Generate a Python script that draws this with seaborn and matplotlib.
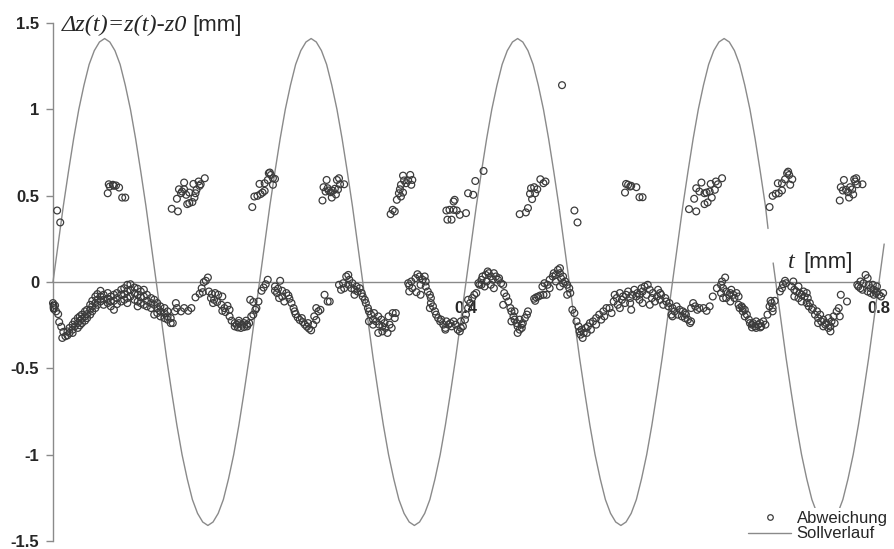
import pandas as pd
import matplotlib
matplotlib.use('Agg')
import matplotlib.pyplot as plt
from matplotlib.lines import Line2D
import seaborn as sns

# ---- data ----
# Sollverlauf: target curve, read every 0.005 mm of t (first piece, up to the gap)
soll_t = [round(0.005 * i, 4) for i in range(139)] + [0.6925]
soll_v = [0, 0.22, 0.44, 0.64, 0.83, 1.00, 1.14, 1.26, 1.34, 1.39,
          1.41, 1.39, 1.34, 1.26, 1.14, 1.00, 0.83, 0.64, 0.44, 0.22,
          0, -0.22, -0.44, -0.64, -0.83, -1.00, -1.14, -1.26, -1.34, -1.39,
          -1.41, -1.39, -1.34, -1.26, -1.14, -1.00, -0.83, -0.64, -0.44, -0.22,
          0, 0.22, 0.44, 0.64, 0.83, 1.00, 1.14, 1.26, 1.34, 1.39,
          1.41, 1.39, 1.34, 1.26, 1.14, 1.00, 0.83, 0.64, 0.44, 0.22,
          0, -0.22, -0.44, -0.64, -0.83, -1.00, -1.14, -1.26, -1.34, -1.39,
          -1.41, -1.39, -1.34, -1.26, -1.14, -1.00, -0.83, -0.64, -0.44, -0.22,
          0, 0.22, 0.44, 0.64, 0.83, 1.00, 1.14, 1.26, 1.34, 1.39,
          1.41, 1.39, 1.34, 1.26, 1.14, 1.00, 0.83, 0.64, 0.44, 0.22,
          0, -0.22, -0.44, -0.64, -0.83, -1.00, -1.14, -1.26, -1.34, -1.39,
          -1.41, -1.39, -1.34, -1.26, -1.14, -1.00, -0.83, -0.64, -0.44, -0.22,
          0, 0.22, 0.44, 0.64, 0.83, 1.00, 1.14, 1.26, 1.34, 1.39,
          1.41, 1.39, 1.34, 1.26, 1.14, 1.00, 0.83, 0.64, 0.44,
          0.31]
# second piece of the target curve (after the gap)
soll2_t = [0.6975, 0.700, 0.705, 0.710, 0.715, 0.720, 0.725, 0.730, 0.735, 0.740, 0.745,
           0.750, 0.755, 0.760, 0.765, 0.770, 0.775, 0.780, 0.785, 0.790, 0.795, 0.800, 0.805]
soll2_v = [0.11, 0, -0.22, -0.44, -0.64, -0.83, -1.00, -1.14, -1.26, -1.34, -1.39,
           -1.41, -1.39, -1.34, -1.26, -1.14, -1.00, -0.83, -0.64, -0.44, -0.22, 0, 0.22]

# Abweichung: measured deviation, lower band
band_a = [(0.000, -0.122), (0.001, -0.151), (0.002, -0.136), (0.003, -0.170), (0.005, -0.186),
          (0.006, -0.232), (0.008, -0.259), (0.010, -0.289), (0.009, -0.324), (0.012, -0.314),
          (0.014, -0.286), (0.014, -0.309), (0.016, -0.266), (0.016, -0.295), (0.019, -0.247),
          (0.019, -0.276), (0.019, -0.295), (0.021, -0.228), (0.021, -0.257), (0.024, -0.209),
          (0.024, -0.238), (0.024, -0.266), (0.026, -0.199), (0.026, -0.224), (0.026, -0.251),
          (0.028, -0.189), (0.028, -0.213), (0.028, -0.238), (0.031, -0.170), (0.031, -0.199),
          (0.031, -0.224), (0.033, -0.161), (0.033, -0.186), (0.033, -0.209), (0.036, -0.132),
          (0.036, -0.161), (0.036, -0.189), (0.038, -0.109), (0.038, -0.141), (0.038, -0.170),
          (0.041, -0.084), (0.041, -0.122), (0.041, -0.151), (0.043, -0.070), (0.043, -0.103),
          (0.043, -0.132), (0.046, -0.051), (0.046, -0.084), (0.046, -0.113), (0.049, -0.074),
          (0.049, -0.103), (0.049, -0.132), (0.053, -0.064), (0.053, -0.097), (0.053, -0.122),
          (0.056, -0.084), (0.056, -0.113), (0.056, -0.141), (0.059, -0.074), (0.059, -0.109),
          (0.059, -0.161), (0.062, -0.064), (0.062, -0.093), (0.062, -0.128), (0.066, -0.045),
          (0.066, -0.074), (0.066, -0.113), (0.069, -0.036), (0.069, -0.070), (0.069, -0.103),
          (0.072, -0.016), (0.072, -0.055), (0.072, -0.093), (0.072, -0.122), (0.075, -0.013),
          (0.075, -0.045), (0.075, -0.084), (0.079, -0.032), (0.079, -0.064), (0.079, -0.103),
          (0.082, -0.039), (0.082, -0.074), (0.082, -0.113), (0.082, -0.141), (0.085, -0.055),
          (0.085, -0.089), (0.085, -0.122), (0.088, -0.045), (0.088, -0.084), (0.088, -0.132),
          (0.091, -0.074), (0.091, -0.109), (0.091, -0.141), (0.095, -0.093), (0.095, -0.122),
          (0.095, -0.151), (0.098, -0.103), (0.098, -0.132), (0.098, -0.189), (0.101, -0.122),
          (0.101, -0.151), (0.101, -0.180), (0.104, -0.141), (0.104, -0.170), (0.104, -0.199),
          (0.108, -0.151), (0.108, -0.180), (0.108, -0.209), (0.111, -0.170), (0.111, -0.199),
          (0.111, -0.218), (0.114, -0.209), (0.114, -0.238), (0.119, -0.122), (0.120, -0.151),
          (0.118, -0.170), (0.124, -0.170), (0.127, -0.151), (0.131, -0.167), (0.134, -0.151),
          (0.116, -0.238)]
band_b = [(0.138, -0.089), (0.142, -0.068), (0.144, -0.036), (0.146, -0.001), (0.150, 0.026),
          (0.148, 0.007), (0.151, -0.055), (0.154, -0.070), (0.157, -0.064), (0.160, -0.074),
          (0.164, -0.084), (0.156, -0.103), (0.159, -0.116), (0.155, -0.122), (0.153, -0.093),
          (0.145, -0.059), (0.163, -0.132), (0.166, -0.151), (0.169, -0.138), (0.171, -0.161),
          (0.164, -0.167), (0.167, -0.174), (0.171, -0.199), (0.173, -0.224), (0.176, -0.238),
          (0.178, -0.247), (0.180, -0.238), (0.183, -0.247), (0.185, -0.238), (0.188, -0.247),
          (0.190, -0.238), (0.179, -0.263), (0.182, -0.266), (0.185, -0.261), (0.188, -0.257),
          (0.176, -0.257), (0.180, -0.224), (0.187, -0.224), (0.191, -0.103), (0.194, -0.116),
          (0.196, -0.161), (0.199, -0.113), (0.197, -0.151), (0.192, -0.199), (0.194, -0.189),
          (0.202, -0.051), (0.204, -0.032), (0.206, -0.013), (0.208, 0.013), (0.215, -0.026),
          (0.218, -0.039), (0.220, 0.007), (0.222, -0.051), (0.226, -0.064), (0.228, -0.078),
          (0.217, -0.064), (0.222, -0.084), (0.229, -0.097), (0.224, -0.113), (0.219, -0.093),
          (0.215, -0.051), (0.231, -0.122), (0.233, -0.151), (0.235, -0.186), (0.237, -0.205),
          (0.239, -0.220), (0.242, -0.232), (0.244, -0.247), (0.246, -0.259), (0.248, -0.270),
          (0.250, -0.280), (0.247, -0.238), (0.252, -0.247), (0.255, -0.220), (0.253, -0.199),
          (0.257, -0.170), (0.259, -0.161), (0.255, -0.151), (0.241, -0.209), (0.234, -0.170),
          (0.263, -0.074), (0.266, -0.113)]
band_c = [(0.268, -0.113), (0.277, -0.016), (0.281, -0.007), (0.284, 0.032), (0.286, 0.041),
          (0.287, 0.013), (0.290, -0.007), (0.279, -0.045), (0.282, -0.036), (0.289, -0.036),
          (0.292, -0.045), (0.294, -0.026), (0.295, -0.055), (0.297, -0.036), (0.299, -0.064),
          (0.300, -0.084), (0.302, -0.103), (0.303, -0.122), (0.286, -0.016), (0.292, -0.074),
          (0.305, -0.151), (0.306, -0.170), (0.308, -0.189), (0.310, -0.218), (0.311, -0.180),
          (0.313, -0.228), (0.315, -0.199), (0.316, -0.247), (0.318, -0.218), (0.319, -0.257),
          (0.321, -0.238), (0.322, -0.266), (0.324, -0.295), (0.326, -0.247), (0.328, -0.266),
          (0.329, -0.180), (0.331, -0.209), (0.332, -0.180), (0.315, -0.295), (0.306, -0.228),
          (0.319, -0.286), (0.325, -0.199), (0.310, -0.247), (0.344, -0.007), (0.345, -0.055),
          (0.347, 0.003), (0.348, -0.036), (0.351, 0.022), (0.353, 0.045), (0.355, 0.032),
          (0.356, -0.016), (0.358, 0.013), (0.360, 0.032), (0.361, -0.026), (0.363, -0.055),
          (0.365, -0.074), (0.366, -0.093), (0.345, -0.020), (0.352, -0.059), (0.356, -0.074),
          (0.361, 0.003), (0.366, -0.122), (0.365, -0.151), (0.368, -0.141), (0.370, -0.170),
          (0.371, -0.189), (0.373, -0.209), (0.375, -0.228), (0.376, -0.218), (0.378, -0.247),
          (0.380, -0.266), (0.381, -0.228), (0.383, -0.247), (0.385, -0.238), (0.386, -0.257),
          (0.380, -0.276), (0.388, -0.228), (0.390, -0.247), (0.392, -0.276), (0.394, -0.286),
          (0.395, -0.266), (0.397, -0.257), (0.399, -0.218), (0.400, -0.189), (0.402, -0.151),
          (0.404, -0.122), (0.406, -0.093), (0.408, -0.074), (0.410, -0.064), (0.402, -0.103),
          (0.395, -0.228), (0.412, -0.007), (0.413, -0.016), (0.415, 0.013), (0.416, 0.032),
          (0.419, 0.041), (0.421, 0.061), (0.422, 0.051), (0.424, 0.032), (0.426, 0.013),
          (0.427, 0.051), (0.429, 0.032), (0.431, 0.013), (0.432, 0.022), (0.434, -0.007),
          (0.436, -0.016), (0.420, 0.003), (0.427, -0.036), (0.415, -0.016), (0.424, -0.016),
          (0.418, -0.026), (0.437, -0.064), (0.439, -0.084), (0.436, -0.132), (0.441, -0.113),
          (0.443, -0.151), (0.444, -0.170), (0.446, -0.199), (0.447, -0.218), (0.449, -0.238),
          (0.450, -0.257), (0.452, -0.276), (0.454, -0.266), (0.455, -0.238), (0.457, -0.209),
          (0.459, -0.189), (0.460, -0.170), (0.447, -0.170), (0.452, -0.218), (0.444, -0.228),
          (0.450, -0.295), (0.454, -0.247), (0.466, -0.097), (0.468, -0.089), (0.470, -0.084),
          (0.472, -0.078), (0.475, -0.074), (0.478, -0.074), (0.467, -0.109), (0.474, -0.026),
          (0.476, -0.007), (0.479, -0.016), (0.481, 0.013), (0.484, 0.032), (0.485, 0.051),
          (0.487, 0.041), (0.489, 0.070), (0.491, 0.080), (0.491, 0.051), (0.492, 0.022),
          (0.494, 0.032), (0.496, 0.003), (0.498, -0.016), (0.500, -0.036), (0.501, -0.064),
          (0.494, -0.007), (0.487, 0.003), (0.491, -0.026), (0.498, -0.074), (0.481, -0.036),
          (0.503, -0.161), (0.505, -0.180), (0.507, -0.228), (0.509, -0.257), (0.510, -0.286),
          (0.511, -0.305), (0.513, -0.324), (0.512, -0.276), (0.514, -0.295), (0.516, -0.266),
          (0.518, -0.257), (0.520, -0.238), (0.523, -0.228), (0.526, -0.209), (0.529, -0.189),
          (0.533, -0.170), (0.536, -0.151), (0.521, -0.276), (0.526, -0.247), (0.531, -0.218),
          (0.517, -0.295), (0.534, -0.199)]
band_d = [(0.539, -0.151), (0.541, -0.180), (0.543, -0.113), (0.544, -0.074), (0.546, -0.093),
          (0.547, -0.132), (0.549, -0.064), (0.551, -0.103), (0.552, -0.084), (0.554, -0.122),
          (0.555, -0.074), (0.557, -0.055), (0.559, -0.093), (0.560, -0.161), (0.561, -0.074),
          (0.563, -0.045), (0.565, -0.084), (0.566, -0.064), (0.568, -0.103), (0.570, -0.036),
          (0.571, -0.055), (0.573, -0.026), (0.575, -0.074), (0.576, -0.016), (0.578, -0.045),
          (0.580, -0.093), (0.581, -0.064), (0.583, -0.113), (0.585, -0.084), (0.586, -0.045),
          (0.588, -0.103), (0.589, -0.074), (0.591, -0.132), (0.593, -0.093), (0.594, -0.113),
          (0.596, -0.141), (0.549, -0.151), (0.559, -0.122), (0.571, -0.122), (0.578, -0.132),
          (0.568, -0.074), (0.588, -0.064), (0.597, -0.122), (0.599, -0.189), (0.600, -0.151),
          (0.602, -0.170), (0.604, -0.141), (0.605, -0.189), (0.607, -0.161), (0.609, -0.199),
          (0.610, -0.170), (0.612, -0.209), (0.613, -0.189), (0.615, -0.218), (0.617, -0.238),
          (0.618, -0.228), (0.600, -0.199), (0.612, -0.180), (0.620, -0.122), (0.622, -0.141),
          (0.624, -0.161), (0.626, -0.151), (0.630, -0.151), (0.633, -0.167), (0.636, -0.141),
          (0.618, -0.151), (0.639, -0.084), (0.643, -0.036), (0.647, -0.016), (0.648, 0.003),
          (0.651, 0.026), (0.649, -0.036), (0.652, -0.055), (0.655, -0.074), (0.656, -0.064),
          (0.657, -0.045), (0.659, -0.074), (0.660, -0.093), (0.662, -0.064), (0.664, -0.084),
          (0.652, -0.093), (0.656, -0.113), (0.647, -0.064), (0.649, -0.093), (0.664, -0.132),
          (0.665, -0.151), (0.667, -0.141), (0.668, -0.170), (0.670, -0.161), (0.672, -0.189),
          (0.670, -0.199), (0.668, -0.151), (0.674, -0.218), (0.675, -0.238), (0.677, -0.247),
          (0.678, -0.238), (0.680, -0.257), (0.681, -0.228), (0.683, -0.247), (0.685, -0.238),
          (0.686, -0.257), (0.688, -0.228), (0.690, -0.247), (0.681, -0.266), (0.677, -0.263),
          (0.685, -0.263), (0.692, -0.189), (0.694, -0.141), (0.696, -0.122), (0.697, -0.151),
          (0.699, -0.109), (0.697, -0.170), (0.695, -0.109), (0.704, -0.055), (0.706, -0.036),
          (0.707, -0.013), (0.709, 0.007), (0.710, -0.007), (0.715, -0.026), (0.717, 0.003),
          (0.718, -0.045), (0.720, -0.055), (0.722, -0.026), (0.723, -0.064), (0.725, -0.074),
          (0.727, -0.055), (0.728, -0.084), (0.730, -0.064), (0.731, -0.093), (0.718, -0.084),
          (0.722, -0.093), (0.725, -0.113), (0.730, -0.122), (0.732, -0.141), (0.733, -0.122),
          (0.735, -0.161), (0.736, -0.151), (0.738, -0.189), (0.740, -0.170), (0.741, -0.209),
          (0.743, -0.189), (0.744, -0.228), (0.746, -0.218), (0.748, -0.247), (0.749, -0.238),
          (0.751, -0.266), (0.753, -0.257), (0.751, -0.209), (0.754, -0.228), (0.756, -0.199),
          (0.757, -0.238), (0.759, -0.170), (0.761, -0.151), (0.753, -0.286), (0.746, -0.257),
          (0.741, -0.238), (0.762, -0.199), (0.763, -0.074), (0.769, -0.113), (0.779, -0.016),
          (0.780, -0.026), (0.782, 0.003), (0.785, -0.007), (0.787, 0.041), (0.789, 0.022),
          (0.790, -0.016), (0.792, -0.036), (0.794, -0.016), (0.795, -0.045), (0.797, -0.064),
          (0.798, -0.055), (0.800, -0.074), (0.802, -0.084), (0.784, -0.045), (0.789, -0.055),
          (0.792, -0.064), (0.795, -0.074), (0.798, -0.026), (0.804, -0.064), (0.782, -0.036)]

# Abweichung: upper clusters
upper_a = [(0.004, 0.414), (0.007, 0.345),
           (0.054, 0.566), (0.055, 0.553), (0.058, 0.563), (0.061, 0.559), (0.064, 0.547),
           (0.053, 0.514), (0.067, 0.489), (0.070, 0.489), (0.059, 0.557),
           (0.115, 0.424), (0.121, 0.409), (0.120, 0.482), (0.122, 0.537), (0.125, 0.524),
           (0.127, 0.576), (0.124, 0.514), (0.129, 0.505), (0.130, 0.451), (0.132, 0.457),
           (0.135, 0.463), (0.137, 0.489), (0.136, 0.568), (0.139, 0.534), (0.141, 0.582),
           (0.143, 0.566), (0.142, 0.557), (0.138, 0.514), (0.147, 0.601), (0.132, 0.518),
           (0.127, 0.537),
           (0.193, 0.434), (0.195, 0.495), (0.198, 0.499), (0.201, 0.509), (0.203, 0.518),
           (0.205, 0.528), (0.200, 0.568), (0.205, 0.572), (0.208, 0.591), (0.209, 0.630),
           (0.211, 0.620), (0.213, 0.601), (0.215, 0.597), (0.213, 0.563), (0.210, 0.634),
           (0.261, 0.472), (0.262, 0.549), (0.264, 0.524), (0.265, 0.591), (0.267, 0.530),
           (0.269, 0.520), (0.270, 0.489), (0.273, 0.540), (0.274, 0.507), (0.275, 0.591),
           (0.277, 0.601), (0.278, 0.566), (0.282, 0.566), (0.276, 0.536), (0.271, 0.528),
           (0.266, 0.543),
           (0.327, 0.393), (0.329, 0.418), (0.331, 0.409), (0.333, 0.476), (0.335, 0.514),
           (0.336, 0.537), (0.337, 0.563), (0.339, 0.616), (0.340, 0.588), (0.342, 0.572),
           (0.344, 0.588), (0.346, 0.620), (0.348, 0.591), (0.347, 0.563), (0.339, 0.518),
           (0.337, 0.495)]
upper_b = [(0.381, 0.414), (0.382, 0.361), (0.384, 0.418), (0.386, 0.361), (0.388, 0.418),
           (0.389, 0.476), (0.388, 0.466), (0.391, 0.414), (0.394, 0.389), (0.400, 0.399),
           (0.402, 0.514), (0.407, 0.505), (0.409, 0.585), (0.417, 0.643),
           (0.452, 0.393), (0.458, 0.403), (0.460, 0.428), (0.464, 0.480), (0.462, 0.511),
           (0.467, 0.514), (0.463, 0.543), (0.466, 0.549), (0.472, 0.595), (0.475, 0.572),
           (0.477, 0.582), (0.469, 0.537),
           (0.493, 1.140),
           (0.505, 0.414), (0.508, 0.345),
           (0.555, 0.568), (0.557, 0.563), (0.560, 0.557), (0.565, 0.549), (0.554, 0.518),
           (0.568, 0.491), (0.571, 0.491), (0.559, 0.553),
           (0.616, 0.422), (0.623, 0.409), (0.621, 0.482), (0.623, 0.543), (0.626, 0.524),
           (0.628, 0.576), (0.631, 0.514), (0.631, 0.451), (0.634, 0.461), (0.638, 0.489),
           (0.637, 0.568), (0.641, 0.534), (0.642, 0.582), (0.644, 0.566), (0.648, 0.601),
           (0.633, 0.518), (0.636, 0.524),
           (0.694, 0.434), (0.697, 0.499), (0.700, 0.511), (0.703, 0.514), (0.706, 0.530),
           (0.702, 0.572), (0.706, 0.572), (0.709, 0.595), (0.711, 0.630), (0.713, 0.620),
           (0.716, 0.595), (0.714, 0.563), (0.712, 0.639),
           (0.762, 0.472), (0.763, 0.549), (0.765, 0.530), (0.766, 0.591), (0.768, 0.534),
           (0.770, 0.520), (0.771, 0.489), (0.774, 0.536), (0.775, 0.507), (0.776, 0.595),
           (0.778, 0.601), (0.779, 0.566), (0.784, 0.566), (0.777, 0.582), (0.772, 0.549)]

y_ticks = [-1.5, -1, -0.5, 0, 0.5, 1, 1.5]
y_tick_labels = ['-1.5', '-1', '-0.5', '0', '0.5', '1', '1.5']
x_ticks = [0, 0.4, 0.8]
x_tick_labels = ['0', '0.4', '0.8']

# ---- frames ----
soll = pd.concat([
    pd.DataFrame({'t': soll_t, 'v': soll_v, 'seg': 1}),
    pd.DataFrame({'t': soll2_t, 'v': soll2_v, 'seg': 2}),
])
abw = pd.DataFrame(band_a + band_b + band_c + band_d + upper_a + upper_b, columns=['t', 'v'])

sns.set_style('white')
plt.rcParams['font.family'] = ['Liberation Sans', 'DejaVu Sans']

line_col = '#8a8a8a'
dot_col = '#3c3c3c'

fig = plt.figure(figsize=(8.95, 5.49), dpi=100)
ax = fig.add_axes([53 / 895, 8 / 549, 826 / 895, 518 / 549])

sns.lineplot(data=soll, x='t', y='v', units='seg', estimator=None, sort=False,
             color=line_col, linewidth=1.0, ax=ax, clip_on=False, zorder=1)
sns.scatterplot(data=abw, x='t', y='v', ax=ax, s=24, marker='o',
                facecolor='none', edgecolor=dot_col, linewidth=0.9,
                clip_on=False, zorder=3)

ax.set_xlim(0, 0.8)
ax.set_ylim(-1.5, 1.5)
ax.set_xlabel('')
ax.set_ylabel('')

for side in ['top', 'right']:
    ax.spines[side].set_visible(False)
ax.spines['left'].set_color(line_col)
ax.spines['left'].set_linewidth(1.0)
ax.spines['bottom'].set_position(('data', 0))
ax.spines['bottom'].set_color(line_col)
ax.spines['bottom'].set_linewidth(1.0)
ax.spines['bottom'].set_zorder(0)

ax.set_yticks(y_ticks)
ax.set_yticklabels(y_tick_labels, fontsize=12, fontweight='bold')
ax.set_xticks(x_ticks)
ax.set_xticklabels(x_tick_labels, fontsize=12, fontweight='bold')
ax.tick_params(axis='y', length=5, width=1, color=line_col, pad=5, left=True)
ax.tick_params(axis='x', length=0, pad=14, bottom=True)

# axis titles (italic serif symbols + sans unit)
fig.text(62 / 895, 1 - 25 / 549, 'Δz(t)=z(t)-z0', family='Liberation Serif',
         style='italic', fontsize=17.5, va='center', ha='left')
fig.text(192 / 895, 1 - 26 / 549, '[mm]', fontsize=16, va='center', ha='left')
fig.text(788 / 895, 1 - 262 / 549, 't', family='Liberation Serif', style='italic',
         fontsize=17.5, va='center', ha='left')
fig.text(803 / 895, 1 - 263 / 549, '[mm]', fontsize=16, va='center', ha='left')

handles = [Line2D([], [], marker='o', linestyle='none', markersize=4,
                  markerfacecolor='none', markeredgecolor=dot_col, markeredgewidth=0.9),
           Line2D([], [], color=line_col, linewidth=1.0)]
leg = ax.legend(handles, ['Abweichung', 'Sollverlauf'], loc='lower right',
                bbox_to_anchor=(895 / 895, 0 / 549), bbox_transform=fig.transFigure,
                fontsize=12, frameon=True, facecolor='white', edgecolor='none',
                framealpha=1, borderpad=0.15, labelspacing=0.05,
                handlelength=2.6, handletextpad=0.3, borderaxespad=0.3)
leg.set_zorder(5)

fig.savefig('out.png', dpi=100, facecolor='white')
